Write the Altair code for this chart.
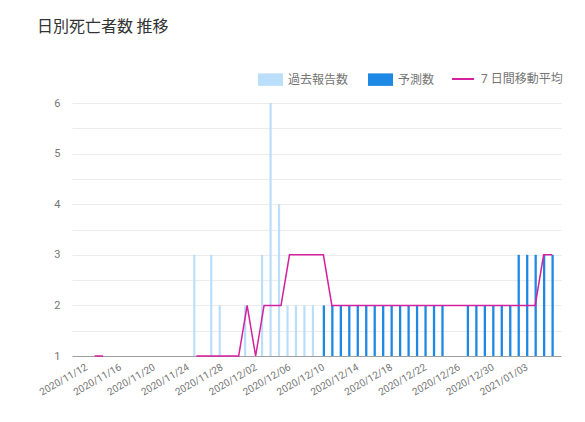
import altair as alt
import pandas as pd

# ---- data ----
past_dates = ["2020-11-25", "2020-11-27", "2020-11-28", "2020-12-01", "2020-12-03",
              "2020-12-04", "2020-12-05", "2020-12-06", "2020-12-07", "2020-12-08",
              "2020-12-09"]
past_values = [3, 3, 2, 2, 3, 6, 4, 2, 2, 2, 2]

forecast_dates = ["2020-12-10", "2020-12-11", "2020-12-12", "2020-12-13", "2020-12-14",
                  "2020-12-15", "2020-12-16", "2020-12-17", "2020-12-18", "2020-12-19",
                  "2020-12-20", "2020-12-21", "2020-12-22", "2020-12-23", "2020-12-24",
                  "2020-12-27", "2020-12-28", "2020-12-29", "2020-12-30", "2020-12-31",
                  "2021-01-01", "2021-01-02", "2021-01-03", "2021-01-04", "2021-01-05",
                  "2021-01-06"]
forecast_values = [2, 2, 2, 2, 2, 2, 2, 2, 2, 2, 2, 2, 2, 2, 2,
                   2, 2, 2, 2, 2, 2, 3, 3, 3, 3, 3]

ma_dates = [d.strftime("%Y-%m-%d") for d in pd.date_range("2020-11-13", "2021-01-06")]
ma_values = [1, 1,
             None, None, None, None, None, None, None, None, None, None,
             1, 1, 1, 1, 1, 1,
             2, 1, 2, 2, 2,
             3, 3, 3, 3, 3,
             2, 2, 2, 2, 2, 2, 2, 2, 2, 2, 2, 2, 2, 2, 2, 2, 2, 2, 2, 2, 2,
             2, 2, 2, 2,
             3, 3]

tick_dates = ["2020-11-12", "2020-11-16", "2020-11-20", "2020-11-24", "2020-11-28",
              "2020-12-02", "2020-12-06", "2020-12-10", "2020-12-14", "2020-12-18",
              "2020-12-22", "2020-12-26", "2020-12-30", "2021-01-03"]

series_bars = ["過去報告数", "予測数"]
series_line = ["7 日間移動平均"]

past_df = pd.DataFrame({"date": past_dates, "value": past_values, "series": series_bars[0]})
fc_df = pd.DataFrame({"date": forecast_dates, "value": forecast_values, "series": series_bars[1]})
ma_df = pd.DataFrame({"date": ma_dates, "value": ma_values, "series": series_line[0]})

FONT = "Roboto, 'Noto Sans CJK JP'"
GREY = "#757575"


def dt(s):
    y, m, d = (int(p) for p in s.split("-"))
    return alt.DateTime(year=y, month=m, date=d, utc=True)


x_enc = alt.X(
    "date:T",
    title=None,
    scale=alt.Scale(
        type="utc",
        domain=[alt.DateTime(year=2020, month=11, date=10, hours=22, utc=True),
                alt.DateTime(year=2021, month=1, date=6, hours=11, utc=True)],
    ),
    axis=alt.Axis(
        values=[dt(s) for s in tick_dates],
        labelExpr="utcFormat(datum.value, '%Y/%m/%d')",
        labelAngle=-30,
        labelAlign="right",
        labelBaseline="middle",
        labelPadding=10,
        labelFontSize=10,
        labelColor=GREY,
        labelFont=FONT,
        ticks=False,
        grid=False,
        domainColor="#9e9e9e",
        labelOverlap=False,
        labelFlush=False,
    ),
)

y_enc = alt.Y(
    "value:Q",
    title=None,
    scale=alt.Scale(domain=[1, 6], nice=False, zero=False),
    axis=alt.Axis(
        values=[1, 1.5, 2, 2.5, 3, 3.5, 4, 4.5, 5, 5.5, 6],
        labelExpr="datum.value % 1 === 0 ? format(datum.value, 'd') : ''",
        labelFontSize=11,
        labelColor=GREY,
        labelFont=FONT,
        labelPadding=12,
        ticks=False,
        domain=False,
        gridColor="#ececec",
    ),
)

bar_color = alt.Color(
    "series:N",
    scale=alt.Scale(domain=series_bars, range=["#bbdefb", "#1e88e5"]),
    legend=alt.Legend(
        title=None,
        orient="none",
        legendX=186,
        legendY=-36,
        direction="horizontal",
        symbolType="M-1,-0.5H1V0.5H-1Z",
        symbolSize=625,
        symbolStrokeWidth=0,
        labelFontSize=12,
        labelColor=GREY,
        labelFont=FONT,
        labelOffset=5,
        columnPadding=19,
        padding=0,
    ),
)

line_stroke = alt.Stroke(
    "series:N",
    scale=alt.Scale(domain=series_line, range=["#d5209f"]),
    legend=alt.Legend(
        title=None,
        orient="none",
        legendX=379,
        legendY=-36,
        direction="horizontal",
        symbolType="stroke",
        symbolSize=484,
        symbolStrokeWidth=2,
        labelFontSize=12,
        labelColor=GREY,
        labelFont=FONT,
        labelOffset=6,
        padding=0,
    ),
)

past = alt.Chart(past_df).mark_bar(width=2.2, xOffset=-2).encode(
    x=x_enc, y=y_enc, y2=alt.datum(1), color=bar_color
)
fc = alt.Chart(fc_df).mark_bar(width=2.3, xOffset=0.5).encode(
    x=x_enc, y=y_enc, y2=alt.datum(1), color=bar_color
)
ma = alt.Chart(ma_df).mark_line(strokeWidth=1.5, invalid="break-paths-show-domains").encode(
    x=x_enc, y=y_enc, stroke=line_stroke
)

chart = (
    alt.layer(past, fc, ma)
    .properties(
        width=489,
        height=253,
        padding={"left": 64, "top": 95, "right": 16, "bottom": 40},
        autosize=alt.AutoSizeParams(type="none"),
        background="white",
        title=alt.Title(
            "日別死亡者数 推移",
            anchor="start",
            frame="group",
            dx=-35,
            offset=32,
            fontSize=16,
            fontWeight="normal",
            color="#333333",
            font="'Noto Sans CJK JP'",
        ),
    )
    .configure_view(stroke=None)
)

chart.save("out.html", embed_options={"renderer": "svg", "actions": False})
